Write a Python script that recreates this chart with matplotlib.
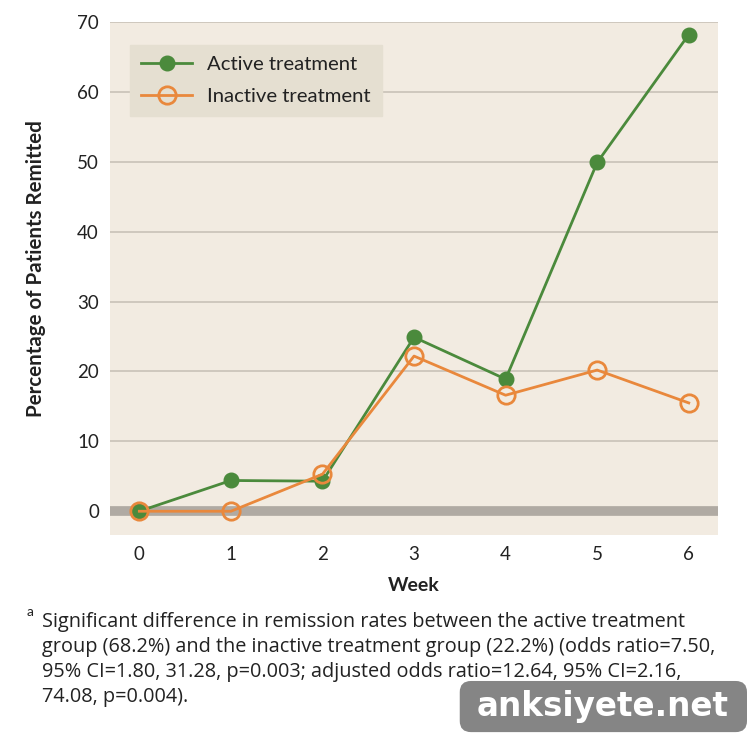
import matplotlib
matplotlib.use("Agg")
import matplotlib.pyplot as plt
from matplotlib.patches import FancyBboxPatch

weeks = [0, 1, 2, 3, 4, 5, 6]
active = [0, 4.4, 4.3, 24.9, 18.9, 49.9, 68.2]
inactive = [0, 0, 5.3, 22.2, 16.6, 20.2, 15.5]
yticks = [0, 10, 20, 30, 40, 50, 60, 70]
foot_lines = [
    "Significant difference in remission rates between the active treatment",
    "group (68.2%) and the inactive treatment group (22.2%) (odds ratio=7.50,",
    "95% CI=1.80, 31.28, p=0.003; adjusted odds ratio=12.64, 95% CI=2.16,",
    "74.08, p=0.004).",
]

plt.rcParams['font.family'] = ['Lato', 'DejaVu Sans']

GREEN = '#4b8a3c'
ORANGE = '#e9883c'
BG = '#f2ebe1'
GRID = '#c9c2b8'

fig = plt.figure(figsize=(7.5, 7.41), dpi=100)
fig.patch.set_facecolor('white')
ax = fig.add_axes([0.1467, 0.278, 0.8107, 0.6923])
ax.set_facecolor(BG)
for s in ax.spines.values():
    s.set_visible(False)

ax.set_xlim(-0.32, 6.32)
ax.set_ylim(-3.4, 70)
ax.set_yticks(yticks)
ax.set_xticks(weeks)
for y in yticks[1:]:
    ax.axhline(y, color=GRID, lw=1.2, zorder=1)
ax.axhline(0, color='#b0aaa3', lw=7, zorder=1)
ax.tick_params(length=0, labelsize=13.5, colors='#222222', pad=8)

ax.plot(weeks, active, color=GREEN, lw=2, marker='o', markersize=10.5,
        markerfacecolor=GREEN, markeredgecolor=GREEN, zorder=3, label='Active treatment')
ax.plot(weeks, inactive, color=ORANGE, lw=2, marker='o', markersize=12.5,
        markerfacecolor='none', markeredgecolor=ORANGE, markeredgewidth=2,
        zorder=4, label='Inactive treatment')

leg = ax.legend(loc='upper left', bbox_to_anchor=(0.033, 0.955), fontsize=14.6,
                frameon=True, fancybox=False, facecolor='#e5dfd1', edgecolor='#e5dfd1',
                framealpha=1, borderpad=0.55, borderaxespad=0, handlelength=2.5,
                labelspacing=0.7, handletextpad=0.75)
for t in leg.get_texts():
    t.set_color('#222222')

ax.set_xlabel('Week', fontsize=14, fontweight='bold', labelpad=10, color='#222222')
ax.set_ylabel('Percentage of Patients Remitted', fontsize=14.8, fontweight='bold',
              color='#222222')
ax.yaxis.set_label_coords(-0.106, 0.52)

fig.text(0.036, 1 - 612 / 741, 'a', fontsize=10, color='#222222', va='center')
for i, line in enumerate(foot_lines):
    yc = 622 + 25 * i
    fig.text(0.056, 1 - yc / 741, line, fontsize=14.3, color='#222222', va='center',
             family=['Open Sans', 'DejaVu Sans'])

box = FancyBboxPatch((0.613, 0.012), 0.383, 0.069, boxstyle='round,pad=0,rounding_size=0.015',
                     transform=fig.transFigure, facecolor='#858585', edgecolor='none',
                     zorder=5)
fig.patches.append(box)
fig.text(0.804, 0.046, 'anksiyete.net', fontsize=23.5, fontweight='bold', color='white',
         ha='center', va='center', zorder=6, family=['DejaVu Sans'])

fig.savefig('out.png', dpi=100, facecolor='white')
